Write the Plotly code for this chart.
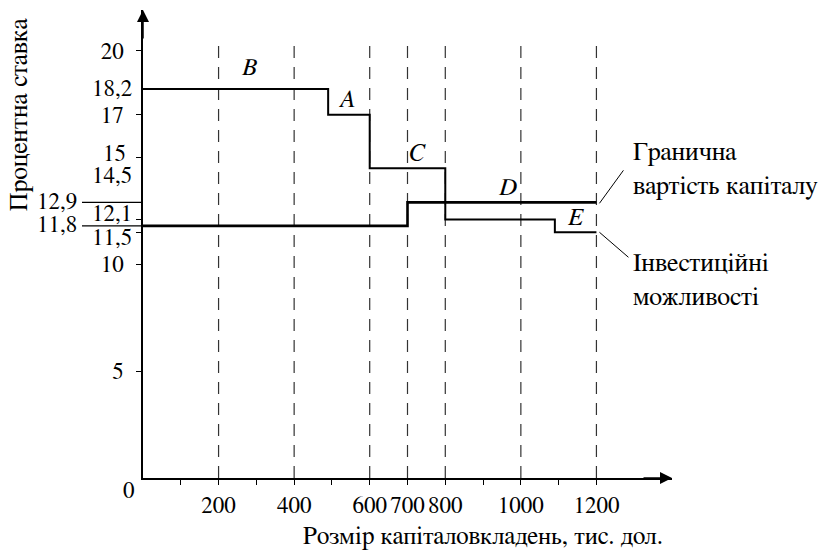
import plotly.graph_objects as go

# ---- data ----
ios_x = [0, 490, 600, 800, 1090, 1200]          # investment opportunities steps
ios_y = [18.2, 17, 14.5, 12.1, 11.5, 11.5]
mcc_x = [0, 700, 1200]                            # marginal cost of capital steps
mcc_y = [11.8, 12.9, 12.9]
project_labels = ["B", "A", "C", "D", "E"]
project_x = [283, 540, 726, 967, 1146]
project_y = [19.2, 17.7, 15.2, 13.6, 12.2]
dash_x = [200, 400, 600, 700, 800, 1000, 1200]
dash_top = 20.5
x_ticks = list(range(100, 1300, 100))
x_ticklabels = ["", "200", "", "400", "", "600", "700", "800", "", "1000", "", "1200"]
y_ticks = [5, 10, 11.5, 12.1, 15, 17, 20]
y_ticklabels = ["5", "10", "", "", "", "17", "20"]
y_cross_ticks = [5, 10, 15, 17, 20]
y_extra = [18.2, 15, 14.5, 12.1, 11.5]
y_extra_text = ["18,2", "15", "14,5", "12,1", "11,5"]
y_extra_shift = [0, 3, -8, 5, -6]
y_lead = [12.9, 11.8]
y_lead_text = ["12,9", "11,8"]
x_max, y_max = 1400, 21.9

FONT = "FreeSerif, Liberation Serif, serif"
FS = 23        # numbers
FS_TXT = 26    # words
FS_LET = 25    # project letters / x title

fig = go.Figure()

# dashed verticals
dx, dy = [], []
for v in dash_x:
    dx += [v, v, None]
    dy += [0, dash_top, None]
fig.add_trace(go.Scatter(x=dx, y=dy, mode="lines",
                         line=dict(color="#333", width=1.2, dash="12px,9px"),
                         hoverinfo="skip"))

fig.add_trace(go.Scatter(x=ios_x, y=ios_y, mode="lines", line_shape="hv",
                         line=dict(color="black", width=2)))
fig.add_trace(go.Scatter(x=mcc_x, y=mcc_y, mode="lines", line_shape="hv",
                         line=dict(color="black", width=2.6)))

annotations = []
for t, x, y in zip(project_labels, project_x, project_y):
    annotations.append(dict(x=x, y=y, text=f"<i>{t}</i>", showarrow=False,
                            font=dict(family=FONT, size=FS_LET, color="black")))

for v, t, s in zip(y_extra, y_extra_text, y_extra_shift):
    annotations.append(dict(x=0, y=v, text=t, showarrow=False, xanchor="right",
                            yanchor="middle", xshift=-9 if t != "15" else -15, yshift=s,
                            font=dict(family=FONT, size=FS, color="black")))
shapes = []
for v, t in zip(y_lead, y_lead_text):
    annotations.append(dict(x=0, y=v, text=t, showarrow=False, xanchor="right",
                            yanchor="middle", xshift=-64,
                            font=dict(family=FONT, size=FS, color="black")))
    shapes.append(dict(type="line", xref="paper", yref="y", xsizemode="pixel",
                       xanchor=0, x0=-61, x1=0, y0=v, y1=v,
                       line=dict(color="black", width=1.2)))

# "0" at origin
annotations.append(dict(x=0, y=0, text="0", showarrow=False, xshift=-14, yshift=-13,
                        xanchor="center", yanchor="middle",
                        font=dict(family=FONT, size=FS, color="black")))

# leader lines & labels on the right
end_x = ios_x[-1]
shapes.append(dict(type="line", xref="x", yref="y", xsizemode="pixel", ysizemode="pixel",
                   xanchor=end_x, yanchor=mcc_y[-1], x0=3, x1=27, y0=-1, y1=32,
                   line=dict(color="black", width=1)))
shapes.append(dict(type="line", xref="x", yref="y", xsizemode="pixel", ysizemode="pixel",
                   xanchor=end_x, yanchor=ios_y[-1], x0=3, x1=32, y0=0, y1=-25,
                   line=dict(color="black", width=1)))
annotations.append(dict(x=end_x, y=mcc_y[-1], text="Гранична<br>вартість капіталу",
                        showarrow=False, xanchor="left", yanchor="bottom", align="left",
                        xshift=35, yshift=0,
                        font=dict(family=FONT, size=FS_TXT, color="black")))
annotations.append(dict(x=end_x, y=ios_y[-1], text="Інвестиційні<br>можливості",
                        showarrow=False, xanchor="left", yanchor="top", align="left",
                        xshift=35, yshift=-16,
                        font=dict(family=FONT, size=FS_TXT, color="black")))

# axis arrows
annotations.append(dict(x=x_max, y=0, ax=-30, ay=0, text="", showarrow=True,
                        arrowhead=2, arrowsize=1.6, arrowwidth=1.5, arrowcolor="black"))
annotations.append(dict(x=0, y=y_max, ax=0, ay=30, text="", showarrow=True,
                        arrowhead=2, arrowsize=1.6, arrowwidth=1.5, arrowcolor="black"))

# axis titles
annotations.append(dict(xref="paper", yref="paper", x=-0.2318, y=0.778,
                        xanchor="center", yanchor="middle",
                        text="Процентна ставка", textangle=-90, showarrow=False,
                        font=dict(family=FONT, size=FS_TXT, color="black")))
annotations.append(dict(xref="paper", yref="paper", x=0.6435, y=-0.126,
                        xanchor="center", yanchor="middle",
                        text="Розмір капіталовкладень, тис. дол.", showarrow=False,
                        font=dict(family=FONT, size=FS_LET, color="black")))

axis_common = dict(showgrid=False, zeroline=False, tickcolor="black", tickwidth=1.2,
                   tickfont=dict(family=FONT, size=FS, color="black"))

fig.update_layout(
    width=828, height=552,
    margin=dict(l=135, r=164, t=2, b=82),
    paper_bgcolor="white", plot_bgcolor="white",
    font=dict(family=FONT, size=FS, color="black"),
    showlegend=False,
    annotations=annotations, shapes=shapes,
    xaxis=dict(range=[0, x_max], showline=True, linecolor="black", linewidth=1.5,
               ticks="outside", ticklen=5, tickvals=x_ticks, ticktext=x_ticklabels,
               tickangle=0, ticklabelstandoff=1, **axis_common),
    xaxis2=dict(range=[0, x_max], overlaying="x", anchor="y", side="bottom",
                ticks="inside", ticklen=5, tickvals=x_ticks, showticklabels=False,
                showline=False, **axis_common),
    yaxis=dict(range=[0, y_max], showline=True, linecolor="black", linewidth=1.5,
               ticks="outside", ticklen=5, tickvals=y_ticks, ticktext=y_ticklabels,
               ticklabelstandoff=8, **axis_common),
    yaxis2=dict(range=[0, y_max], overlaying="y", anchor="x", side="left",
                ticks="inside", ticklen=5, tickvals=y_cross_ticks, showticklabels=False,
                showline=False, **axis_common),
)

fig.write_html("out.html")
